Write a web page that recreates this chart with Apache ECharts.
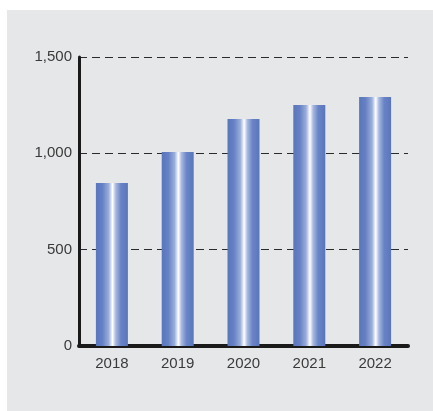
<!DOCTYPE html>
<html>
<head>
<meta charset="utf-8">
<script src="https://cdn.jsdelivr.net/npm/echarts@6/dist/echarts.min.js"></script>
<style>
    html, body { margin: 0; padding: 0; background: #ffffff; }
    #chart { width: 433px; height: 411px; }
</style>
</head>
<body>
<div id="chart"></div>
<script>
const years = ['2018', '2019', '2020', '2021', '2022'];
const values = [846, 1007, 1178, 1251, 1292];
const yTicks = [0, 500, 1000, 1500];

let chart = echarts.init(document.getElementById('chart'));

let barColor = new echarts.graphic.LinearGradient(0, 0, 1, 0, [
    { offset: 0, color: '#5a76bc' },
    { offset: 0.2, color: '#6580c3' },
    { offset: 0.4, color: '#9aaedb' },
    { offset: 0.52, color: '#ffffff' },
    { offset: 0.62, color: '#a7b8e0' },
    { offset: 0.78, color: '#6984c6' },
    { offset: 1, color: '#5a76bc' }
]);

let option = {
    backgroundColor: '#ffffff',
    animation: false,
    graphic: [{
        type: 'rect',
        z: -10,
        silent: true,
        shape: { x: 7, y: 10, width: 426, height: 401 },
        style: { fill: '#e6e7e9' }
    }],
    grid: {
        left: 79,
        right: 25,
        top: 57,
        bottom: 65,
        containLabel: false
    },
    xAxis: {
        type: 'category',
        data: years,
        axisLine: {
            show: true,
            lineStyle: { color: '#1a1a1a', width: 4 }
        },
        axisTick: { show: false },
        axisLabel: {
            margin: 10,
            color: '#3a3a3a',
            fontSize: 15,
            fontFamily: 'Liberation Sans'
        }
    },
    yAxis: {
        type: 'value',
        min: yTicks[0],
        max: yTicks[yTicks.length - 1],
        interval: 500,
        axisLine: {
            show: true,
            lineStyle: { color: '#1a1a1a', width: 3 }
        },
        axisTick: { show: false },
        splitLine: {
            show: true,
            lineStyle: { type: [8, 5], color: '#2a2a2a', width: 1 }
        },
        axisLabel: {
            margin: 7,
            color: '#3a3a3a',
            fontSize: 15,
            fontFamily: 'Liberation Sans',
            formatter: function(value) {
                return value.toLocaleString('en-US');
            }
        }
    },
    series: [{
        type: 'bar',
        data: values,
        barWidth: 32,
        itemStyle: { color: barColor }
    }]
};
chart.setOption(option);
</script>
</body>
</html>
